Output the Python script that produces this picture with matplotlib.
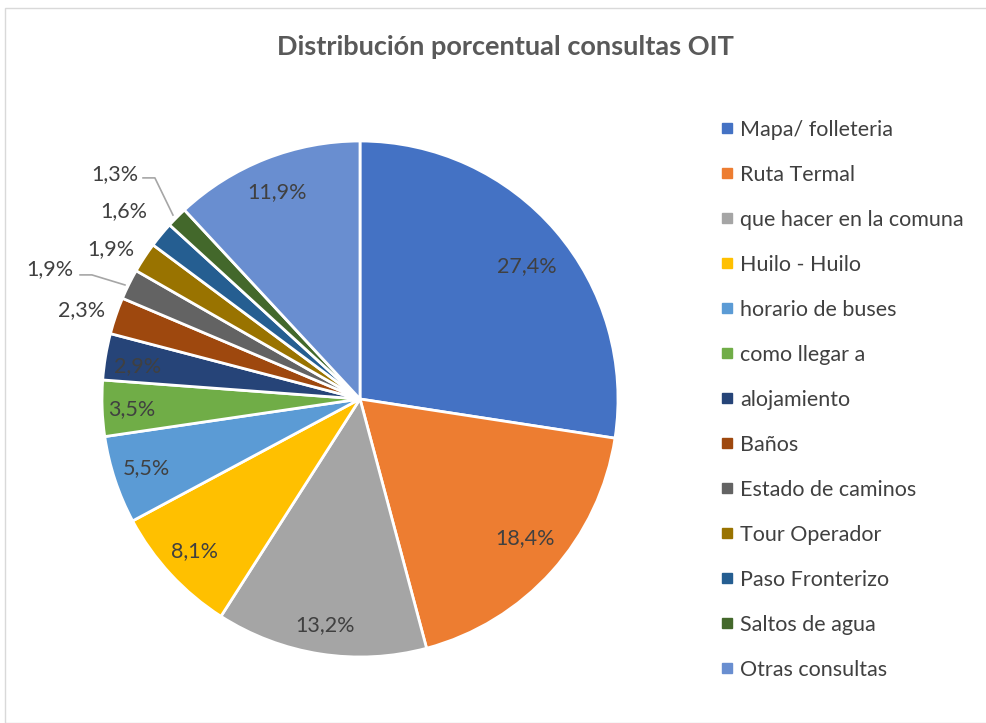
import matplotlib
matplotlib.use("Agg")
import matplotlib.pyplot as plt
from matplotlib.lines import Line2D
from matplotlib.patches import Rectangle

categories = ["Mapa/ folleteria", "Ruta Termal", "que hacer en la comuna", "Huilo - Huilo",
              "horario de buses", "como llegar a", "alojamiento", "Baños", "Estado de caminos",
              "Tour Operador", "Paso Fronterizo", "Saltos de agua", "Otras consultas"]
values = [27.4, 18.4, 13.2, 8.1, 5.5, 3.5, 2.9, 2.3, 1.9, 1.9, 1.6, 1.3, 11.9]
labels = ["27,4%", "18,4%", "13,2%", "8,1%", "5,5%", "3,5%", "2,9%", "2,3%",
          "1,9%", "1,9%", "1,6%", "1,3%", "11,9%"]
colors = ["#4472C4", "#ED7D31", "#A5A5A5", "#FFC000", "#5B9BD5", "#70AD47", "#264478",
          "#9E480E", "#636363", "#997300", "#255E91", "#43682B", "#698ED0"]

# where each data label sits (pie radius = 1), as in the original layout
label_pos = [(0.647, 0.516), (0.640, -0.539), (-0.136, -0.876), (-0.643, -0.589),
             (-0.826, -0.267), (-0.884, -0.039), (-0.864, 0.128), (-1.078, 0.345),
             (-1.202, 0.504), (-0.965, 0.581), (-0.915, 0.729), (-0.950, 0.872),
             (-0.322, 0.802)]
leaders = {8: [(-1.085, 0.481), (-1.039, 0.481), (-0.911, 0.442)],
           11: [(-0.841, 0.857), (-0.795, 0.857), (-0.725, 0.713)]}

plt.rcParams["font.family"] = ["Lato", "DejaVu Sans"]
txt = "#404040"

fig = plt.figure(figsize=(9.87, 7.23), dpi=100)
fig.patches.append(Rectangle((5 / 987, 0), 1, 1 - 8 / 723, transform=fig.transFigure,
                             fill=False, edgecolor="#D9D9D9", linewidth=1))

ax = fig.add_axes([102 / 987, 66 / 723, 516 / 987, 516 / 723])
wedges, texts = ax.pie(values, colors=colors, startangle=90, counterclock=False,
                       labels=labels, labeldistance=0.86,
                       wedgeprops={"edgecolor": "white", "linewidth": 2},
                       textprops={"fontsize": 15.5, "color": txt})
for t, pos in zip(texts, label_pos):
    t.set_ha("center")
    t.set_va("center")
    t.set_position(pos)
for i, pts in leaders.items():
    ax.plot([p[0] for p in pts], [p[1] for p in pts], color="#A6A6A6", linewidth=1.2, clip_on=False)
ax.set_xlim(-1, 1)
ax.set_ylim(-1, 1)
ax.set_aspect("equal")
ax.axis("off")

fig.text(505 / 987, 1 - 47 / 723, "Distribución porcentual consultas OIT", ha="center", va="center",
         fontsize=19.5, fontweight="bold", color="#595959")

handles = [Line2D([], [], marker="s", linestyle="none", markersize=7, color=c) for c in colors]
fig.legend(handles, categories, loc="upper left", bbox_to_anchor=(721 / 987, 1 - 120 / 723),
           frameon=False, fontsize=15.5, labelspacing=1.16, handlelength=0.6, handletextpad=0.28,
           labelcolor=txt, borderpad=0, borderaxespad=0)

fig.savefig("out.png", dpi=100)
